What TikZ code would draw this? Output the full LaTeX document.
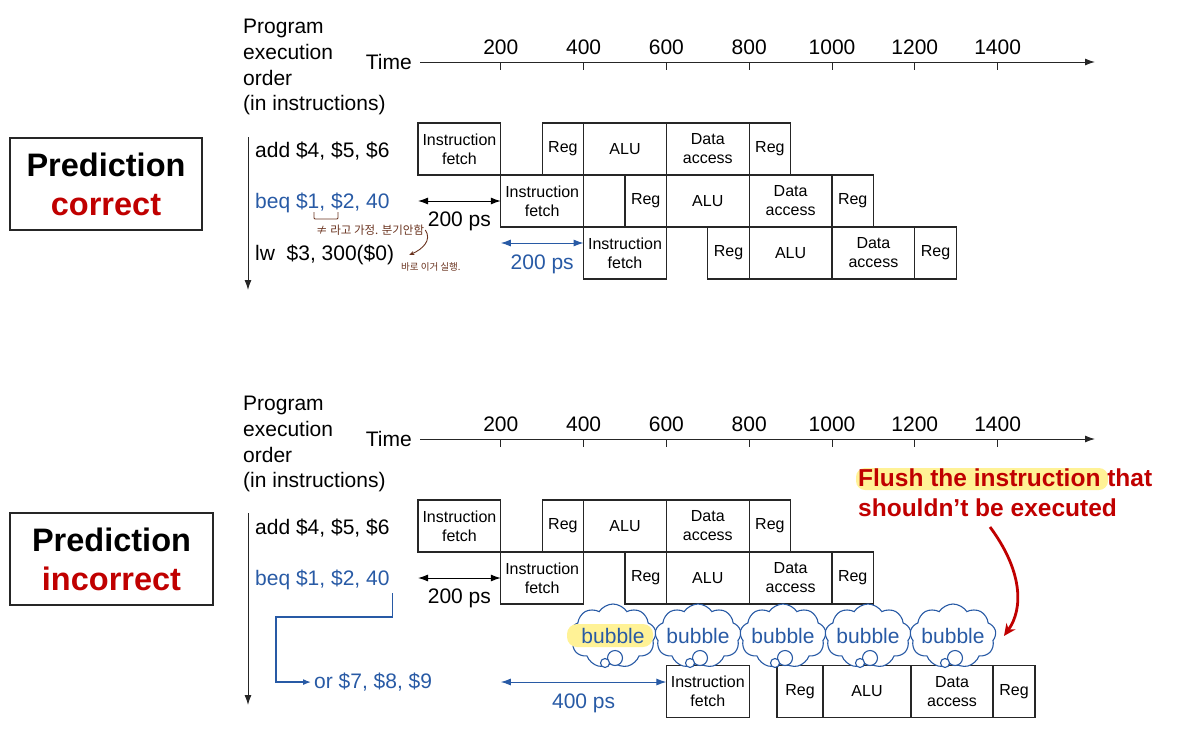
\documentclass[tikz,border=0pt]{standalone}
\usepackage{fontspec}
\setmainfont{Liberation Sans}
\newfontfamily\krfont{Noto Sans CJK KR}
\usetikzlibrary{arrows.meta,positioning,shapes.symbols}

\definecolor{instblue}{RGB}{40,90,165}
\definecolor{darkred}{RGB}{192,0,0}
\definecolor{pen}{RGB}{105,50,30}
\definecolor{hilite}{RGB}{255,242,150}

% start/end (in 100 ps) and text of the five stages
\newcommand\stagelist{0/2/{Instruction\\fetch}, 3/4/Reg, 4/6/ALU, 6/8/{Data\\access}, 8/9/Reg}

\tikzset{
  lbl/.style={inner sep=3pt, font=\fontsize{21}{25.7}\selectfont},
  instr/.style={lbl, anchor=base west},
  stage/.style={draw=black!85, line width=1.1pt, outer sep=0pt, inner sep=0pt,
    minimum height=52pt, align=center, font=\fontsize{16}{19}\selectfont},
  predbox/.style={draw=black!85, line width=1.3pt, minimum height=92pt, align=center,
    font=\bfseries\fontsize{32.5}{39}\selectfont},
  axis/.style={draw=black!85, line width=1pt, -{Latex[length=10pt,width=7pt]}},
  span/.style={line width=1pt, {Latex[length=10pt,width=7pt]}-{Latex[length=10pt,width=7pt]}},
  bub/.style={cloud, cloud puffs=9, cloud puff arc=115, cloud ignores aspect,
    draw=instblue, fill=white, line width=1.1pt, minimum width=86pt, minimum height=64pt},
  puff/.style={draw=instblue, fill=white, line width=1.1pt},
  note/.style={text=pen, inner sep=1pt, anchor=west},
}

\begin{document}
\begin{tikzpicture}[x=1pt, y=-1pt]
\useasboundingbox (0,0) rectangle (1180,731);
%\draw[help lines, step=50] (0,0) grid (1180,731);

\node[predbox, minimum width=192pt] (predu) at (106,184) {Prediction\\\textcolor{darkred}{correct}};
\node[predbox, minimum width=203pt] (predl) at (111.5,559) {Prediction\\\textcolor{darkred}{incorrect}};

% the two time lines (u = correct, l = incorrect)
\foreach \s/\dy in {u/0, l/377} {
  \node[lbl, anchor=north west, align=left] (prog\s) at (240,16+\dy)
    {Program\\execution\\order\\(in instructions)};
  \node[lbl, anchor=east] (time\s) at (415,62+\dy) {Time};
  \coordinate (tend\s) at (1095,62+\dy);
  \draw[axis] ([xshift=5pt]time\s.east) -- (tend\s);
  \foreach \k in {1,...,7} {
    \draw[draw=black!85, line width=1pt] (418+82.8*\k,62+\dy) -- ++(0,8);
    \node[lbl] (tick\s\k) at (418+82.8*\k,47+\dy) {\number\numexpr200*\k\relax};
  }
  \node[instr] (add\s) at (252,157.5+\dy) {add \$4, \$5, \$6};
  \node[instr, text=instblue] (beq\s) at (252,208.5+\dy) {beq \$1, \$2, 40};
}

\foreach \s/\r/\dy in {u/0/0, u/1/0, u/2/0, l/0/377, l/1/377}
  \foreach \a/\b/\txt [count=\i] in \stagelist
    \node[stage, minimum width={41.4pt*(\b-\a)}] (\s\r-\i)
      at ({418+41.4*(\a+\b)/2+82.8*\r}, {149+52*\r+\dy}) {\txt};

\coordinate (vu1) at (248,137);
\coordinate (vu2) at (248,290);
\draw[axis] (vu1) -- (vu2);
\coordinate (vl1) at (248,513);
\coordinate (vl2) at (248,705);
\draw[axis] (vl1) -- (vl2);

% prediction correct
\node[instr] (lwu) at (252,260.5) {lw~~\$3, 300(\$0)};
\draw[span] (u0-1.west |- u1-1.west) -- node[lbl, anchor=base, yshift=-25.5pt] (psa) {200 ps} (u1-1.west);
\coordinate (bs) at ([yshift=10pt]u2-1.west);
\draw[span, instblue] (u1-1.west |- bs) -- node[lbl, anchor=base, yshift=-26.5pt] (psb) {200 ps} (bs);

\draw[pen, line width=0.9pt, rounded corners=1pt] (314,212) -- (314,219) -- (338,219) -- (338,212);
\node[note, font=\krfont\fontsize{11.5}{13}\selectfont] (kr1) at (315,230) {≠ 라고 가정. 분기안함};
\node[note, font=\krfont\fontsize{9.5}{11}\selectfont] (kr2) at (400,267) {바로 이거 실행.};
\draw[pen, line width=0.9pt, -{Stealth[length=5pt,width=4pt]}] (kr1.east) .. controls (432,240) and (423,249) .. ([xshift=12pt]lwu.east);

% prediction incorrect
\draw[span] (l0-1.west |- l1-1.west) -- node[lbl, anchor=base, yshift=-25.5pt] (psc) {200 ps} (l1-1.west);

\node[stage, minimum width=82.8pt] (orif) at (707.8,691.5) {Instruction\\fetch};
\node[stage, minimum width=46pt] (or1) at (800,691.5) {Reg};
\node[stage, minimum width=88pt, right=0pt of or1] (or2) {ALU};
\node[stage, minimum width=82pt, right=0pt of or2] (or3) {Data\\access};
\node[stage, minimum width=42pt, right=0pt of or3] (or4) {Reg};

\coordinate (cs) at ([yshift=9.5pt]orif.west);
\draw[span, instblue] (l1-1.west |- cs) -- node[lbl, anchor=base, yshift=-26.5pt] (psd) {400 ps} (cs);

\node[instr, text=instblue] (orl) at (311,688.5) {or \$7, \$8, \$9};
\coordinate (bend) at (276,617);
\draw[instblue, line width=1.2pt, -{Latex[length=8pt,width=6pt]}] (beql.south east) |- (bend) |- (orl.west);

\foreach \cx [count=\i] in {613,698,783,868,953} {
  \node[bub] (bub\i) at (\cx,636) {};
  \draw[puff] (\cx+2,658) circle (7.5pt);
  \draw[puff] (\cx-8,663) circle (4.5pt);
}
\fill[hilite, rounded corners=10pt] (567,624) rectangle (653,647);
\foreach \i in {1,...,5}
  \node[lbl, text=instblue] (bubtxt\i) at (bub\i) {bubble};

\fill[hilite, rounded corners=9pt] (856,468) rectangle (1108,490);
\node[anchor=north west, align=left, inner sep=3pt, text=darkred,
  font=\bfseries\fontsize{24.5}{30}\selectfont] (flush) at (855,466)
  {Flush the instruction that\\shouldn't be executed};
\coordinate (fa) at (990,527);
\draw[darkred, line width=2.8pt, -{Stealth[length=12pt,width=11pt]}] (fa) .. controls (1022,570) and (1024,608) .. ([xshift=8pt]bub5.east);
\end{tikzpicture}
\end{document}
